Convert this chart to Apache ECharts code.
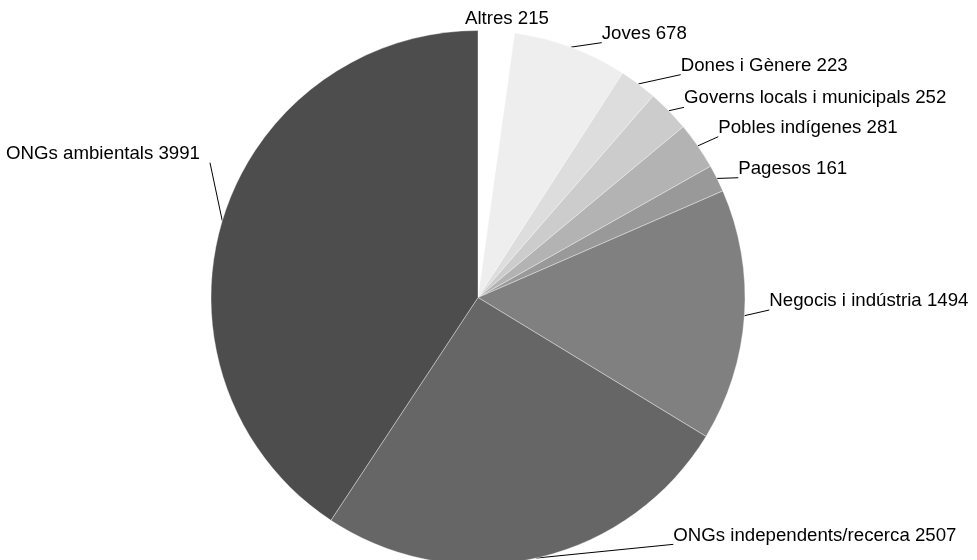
<!DOCTYPE html>
<html>
<head>
<meta charset="utf-8">
<script src="https://cdn.jsdelivr.net/npm/echarts@6/dist/echarts.min.js"></script>
<style>
html,body{margin:0;padding:0;background:#ffffff;}
#chart{width:977px;height:560px;}
</style>
</head>
<body>
<div id="chart"></div>
<script>
// ---- data ----
const categories = [
  'Altres',
  'Joves',
  'Dones i Gènere',
  'Governs locals i municipals',
  'Pobles indígenes',
  'Pagesos',
  'Negocis i indústria',
  'ONGs independents/recerca',
  'ONGs ambientals'
];
const values = [215, 678, 223, 252, 281, 161, 1494, 2507, 3991];
const sliceColors = ['#ffffff', '#eeeeee', '#dddddd', '#cccccc', '#b3b3b3', '#999999', '#808080', '#666666', '#4d4d4d'];

// ---- chart ----
const chart = echarts.init(document.getElementById('chart'), null, { renderer: 'canvas' });

// leader-line vectors: from slice's mid-arc point to the label corner
const leaderVectors = [[10.6, -12.7], [30.9, -4.5], [42.4, -9.3], [15.2, -3.4], [20.5, -9.2], [21.3, -0.7], [24.9, -5.7], [137, -13.7], [-12.3, -58]];

const pieData = categories.map((name, i) => ({
  name: name,
  value: values[i],
  itemStyle: { color: sliceColors[i] }
}));

chart.setOption({
  animation: false,
  backgroundColor: '#ffffff',
  series: [{
    type: 'pie',
    center: [478, 297.5],
    radius: 267,
    startAngle: 90,
    clockwise: true,
    avoidLabelOverlap: false,
    silent: true,
    emphasis: { disabled: true },
    itemStyle: { borderColor: 'rgba(255,255,255,0.6)', borderWidth: 0.6 },
    label: {
      show: true,
      position: 'outside',
      formatter: '{b} {c}',
      fontFamily: 'Liberation Sans, Arial, sans-serif',
      fontSize: 18.67,
      color: '#000000'
    },
    labelLine: {
      show: true,
      length: 10,
      length2: 0,
      lineStyle: { color: '#000000', width: 1 }
    },
    labelLayout: function (p) {
      const i = p.dataIndex;
      const pts = p.labelLinePoints;
      if (!pts) return {};
      const s = pts[0];
      const v = leaderVectors[i];
      const e = [s[0] + v[0], s[1] + v[1]];
      if (i === 0) {
        return {
          x: e[0], y: e[1], align: 'center', verticalAlign: 'middle',
          labelLinePoints: [s, s, s]
        };
      }
      const isLeft = v[0] < 0;
      return {
        x: isLeft ? e[0] - 10 : e[0],
        y: e[1] - 9,
        align: isLeft ? 'right' : 'left',
        verticalAlign: 'middle',
        labelLinePoints: [s, e, e]
      };
    },
    data: pieData
  }]
});
</script>
</body>
</html>
